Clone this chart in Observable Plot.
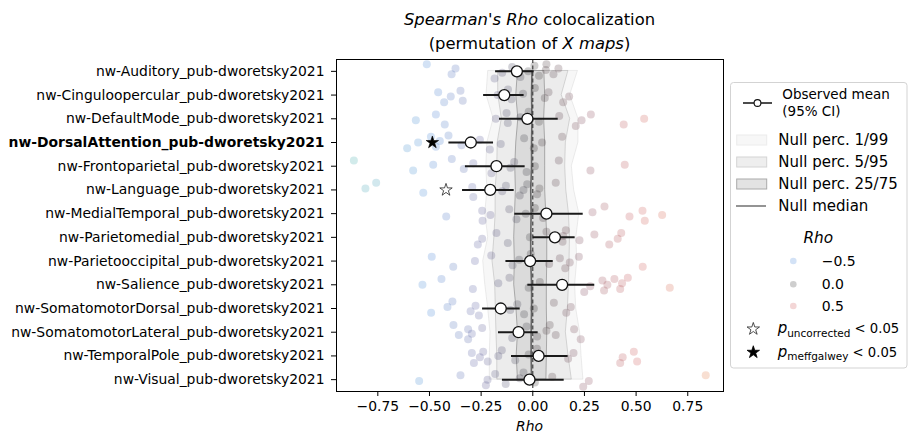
<!DOCTYPE html>
<html>
<head>
<meta charset="utf-8">
<script src="https://cdn.jsdelivr.net/npm/d3@7"></script>
<script src="https://cdn.jsdelivr.net/npm/@observablehq/plot@0.6"></script>
<style>
  body { margin: 0; background: #fff; }
  #fig { position: relative; width: 915px; height: 445px; overflow: hidden; font-family: "DejaVu Sans", sans-serif; color: #000; }
  #fig > svg.plot { position: absolute; left: 0; top: 0; }
  .title { position: absolute; left: 329.5px; width: 400px; text-align: center; font-size: 16.4px; line-height: 23.6px; top: 8px; }
  .xlabel { position: absolute; left: 479.5px; width: 100px; text-align: center; font-size: 13.9px; top: 418px; font-style: italic; }
  #legend { position: absolute; left: 725px; top: 75px; }
</style>
</head>
<body>
<div id="fig">
  <div class="title"><i>Spearman's Rho</i> colocalization<br>(permutation of <i>X maps</i>)</div>
  <div class="xlabel">Rho</div>
</div>
<script>
// Networks (one row each)
const networks = [
  "nw-Auditory_pub-dworetsky2021",
  "nw-Cinguloopercular_pub-dworetsky2021",
  "nw-DefaultMode_pub-dworetsky2021",
  "nw-DorsalAttention_pub-dworetsky2021",
  "nw-Frontoparietal_pub-dworetsky2021",
  "nw-Language_pub-dworetsky2021",
  "nw-MedialTemporal_pub-dworetsky2021",
  "nw-Parietomedial_pub-dworetsky2021",
  "nw-Parietooccipital_pub-dworetsky2021",
  "nw-Salience_pub-dworetsky2021",
  "nw-SomatomotorDorsal_pub-dworetsky2021",
  "nw-SomatomotorLateral_pub-dworetsky2021",
  "nw-TemporalPole_pub-dworetsky2021",
  "nw-Visual_pub-dworetsky2021"
];

// Observed mean Rho with 95% CI
const obsMean = [-0.077, -0.138, -0.026, -0.300, -0.176, -0.206, 0.066, 0.107, -0.013, 0.142, -0.155, -0.069, 0.028, -0.016];
const ciLow   = [-0.180, -0.238, -0.161, -0.406, -0.326, -0.340, -0.087, 0.003, -0.130, -0.024, -0.243, -0.166, -0.103, -0.147];
const ciHigh  = [0.007, -0.042, 0.123, -0.190, -0.037, -0.090, 0.244, 0.205, 0.099, 0.300, -0.061, 0.026, 0.171, 0.152];

// Null distribution percentiles per network
const nullP01 = [-0.216, -0.224, -0.190, -0.220, -0.225, -0.220, -0.230, -0.216, -0.240, -0.230, -0.216, -0.205, -0.208, -0.208];
const nullP05 = [-0.168, -0.167, -0.150, -0.170, -0.172, -0.180, -0.180, -0.186, -0.195, -0.182, -0.179, -0.176, -0.172, -0.172];
const nullP25 = [-0.072, -0.080, -0.070, -0.080, -0.085, -0.082, -0.086, -0.090, -0.087, -0.090, -0.079, -0.072, -0.078, -0.072];
const nullP50 = [-0.004, -0.006, -0.004, -0.006, -0.006, -0.010, -0.008, -0.010, -0.010, -0.006, -0.006, -0.008, -0.008, -0.006];
const nullP75 = [0.056, 0.060, 0.055, 0.060, 0.060, 0.060, 0.065, 0.070, 0.070, 0.068, 0.068, 0.070, 0.068, 0.066];
const nullP95 = [0.172, 0.140, 0.181, 0.160, 0.157, 0.162, 0.175, 0.180, 0.178, 0.175, 0.170, 0.160, 0.173, 0.189];
const nullP99 = [0.218, 0.181, 0.221, 0.221, 0.189, 0.200, 0.225, 0.211, 0.215, 0.205, 0.210, 0.229, 0.236, 0.245];

// Individual map Rho values per network
const rhoSamples = [
  [-0.513, -0.393, -0.374, -0.185, -0.148, -0.10, -0.06, -0.022, 0.008, 0.03, 0.063, 0.066, 0.10, 0.124],
  [-0.458, -0.429, -0.397, -0.35, -0.339, -0.17, -0.12, -0.103, -0.047, 0.01, 0.058, 0.076, 0.147, 0.176],
  [-0.566, -0.469, -0.426, -0.179, -0.127, -0.121, -0.06, -0.02, 0.03, 0.128, 0.208, 0.236, 0.281, 0.44, 0.539],
  [-0.608, -0.555, -0.493, -0.469, -0.45, -0.408, -0.345, -0.256, -0.208, -0.155, -0.042, 0.005, 0.045, 0.142],
  [-0.866, -0.579, -0.482, -0.392, -0.334, -0.288, -0.2, -0.108, -0.09, -0.03, 0.01, 0.126, 0.279, 0.445],
  [-0.81, -0.758, -0.53, -0.293, -0.288, -0.148, -0.13, -0.063, -0.045, -0.027, 0.021, 0.032, 0.111],
  [-0.419, -0.245, -0.243, -0.205, -0.114, -0.079, -0.034, 0.01, 0.05, 0.289, 0.347, 0.468, 0.531, 0.542, 0.626],
  [-0.266, -0.245, -0.176, -0.121, -0.014, 0.066, 0.144, 0.147, 0.16, 0.226, 0.298, 0.37, 0.411, 0.428],
  [-0.489, -0.385, -0.28, -0.201, -0.098, -0.066, -0.01, 0.079, 0.131, 0.157, 0.179, 0.223, 0.532],
  [-0.534, -0.442, -0.29, -0.167, -0.113, -0.02, 0.034, 0.249, 0.278, 0.337, 0.345, 0.361, 0.395, 0.423, 0.432, 0.46, 0.663],
  [-0.492, -0.413, -0.389, -0.301, -0.277, -0.261, -0.109, -0.075, -0.042, 0.005, 0.102, 0.162, 0.184],
  [-0.384, -0.358, -0.313, -0.313, -0.295, -0.245, -0.1, -0.066, -0.03, 0.021, 0.066, 0.082, 0.111, 0.2, 0.232],
  [-0.295, -0.285, -0.256, -0.24, -0.218, -0.167, -0.15, -0.085, -0.02, 0.02, 0.171, 0.197, 0.423, 0.435, 0.489, 0.505],
  [-0.55, -0.35, -0.227, -0.219, -0.182, -0.131, -0.063, -0.045, 0.01, 0.094, 0.244, 0.271, 0.837]
];

// Significance flags
const sigUncorrected = ["nw-Language_pub-dworetsky2021"];
const sigCorrected = ["nw-DorsalAttention_pub-dworetsky2021"];

// Tick values and colour map stops
const xTicks = [-0.75, -0.5, -0.25, 0, 0.25, 0.5, 0.75];
const colorStops = [-1, -0.5, -0.25, 0, 0.25, 0.5, 1];
const colorRange = ["#3fb79c", "#4585d8", "#5a5896", "#333333", "#7e4456", "#cb5353", "#ef8a3c"];
const legendRho = [-0.5, 0, 0.5];

const rows = networks.map((name, i) => ({
  i, name,
  mean: obsMean[i], lo: ciLow[i], hi: ciHigh[i],
  p01: nullP01[i], p05: nullP05[i], p25: nullP25[i], p50: nullP50[i],
  p75: nullP75[i], p95: nullP95[i], p99: nullP99[i]
}));

// strip-plot jitter within each row (layout only)
const points = rhoSamples.flatMap((vals, i) =>
  vals.map((rho, k) => ({ i, rho, jit: ((((k * 7 + i * 3) % 11) / 10) - 0.5) * 0.6 }))
);

const starOffset = 0.08;
const uncRows = rows.filter(d => sigUncorrected.includes(d.name));
const corRows = rows.filter(d => sigCorrected.includes(d.name));

const chart = Plot.plot({
  width: 728,
  height: 445,
  marginTop: 59,
  marginBottom: 54,
  marginLeft: 336,
  marginRight: 5,
  style: { fontFamily: "DejaVu Sans", fontSize: "13.9px", color: "#000", background: "transparent" },
  x: { domain: [-0.95, 0.923], ticks: xTicks, tickFormat: d3.format(".2f"), tickSize: 5, tickPadding: 5, label: null },
  y: { domain: [13.5, -0.5], ticks: d3.range(networks.length), tickFormat: i => networks[i], tickSize: 5, tickPadding: 7, label: null },
  color: { type: "linear", domain: colorStops, range: colorRange, interpolate: d3.interpolateRgb, clamp: true },
  marks: [
    Plot.areaX(rows, { y: "i", x1: "p01", x2: "p99", fill: "#000", fillOpacity: 0.03, stroke: "#999", strokeOpacity: 0.18, strokeWidth: 1 }),
    Plot.areaX(rows, { y: "i", x1: "p05", x2: "p95", fill: "#000", fillOpacity: 0.045, stroke: "#888", strokeOpacity: 0.3, strokeWidth: 1 }),
    Plot.areaX(rows, { y: "i", x1: "p25", x2: "p75", fill: "#000", fillOpacity: 0.07, stroke: "#777", strokeOpacity: 0.55, strokeWidth: 1 }),
    Plot.lineX(rows, { y: "i", x: "p50", stroke: "#666", strokeWidth: 1.6 }),
    Plot.dot(points, { x: "rho", y: d => d.i + d.jit, r: 4, fill: "rho", fillOpacity: 0.24 }),
    Plot.ruleX([0], { stroke: "#333", strokeWidth: 1.1, strokeDasharray: "4,2.5" }),
    Plot.ruleY(rows, { y: "i", x1: "lo", x2: "hi", stroke: "#1a1a1a", strokeWidth: 2 }),
    Plot.dot(rows, { x: "mean", y: "i", r: 5.5, fill: "white", stroke: "#111", strokeWidth: 1.3 }),
    Plot.dot(uncRows, { x: d => d.lo - starOffset, y: "i", symbol: "star", r: 3.9, fill: "white", stroke: "#222", strokeWidth: 0.8 }),
    Plot.dot(corRows, { x: d => d.lo - starOffset, y: "i", symbol: "star", r: 3.9, fill: "#000", stroke: "#000", strokeWidth: 0.6 }),
    Plot.frame({ stroke: "#000", strokeWidth: 1 })
  ]
});
chart.classList.add("plot");

// Highlight the network with a corrected-significant result
d3.select(chart).selectAll("text")
  .filter(function () { return sigCorrected.includes(this.textContent); })
  .attr("font-weight", "bold");

document.getElementById("fig").appendChild(chart);

// Legend
const legendColor = d3.scaleLinear().domain(colorStops).range(colorRange).interpolate(d3.interpolateRgb);
const lg = d3.select("#fig").append("svg")
  .attr("id", "legend").attr("width", 190).attr("height", 300)
  .style("font-family", "DejaVu Sans");

lg.append("rect").attr("x", 5.5).attr("y", 7.5).attr("width", 176.5).attr("height", 285.5)
  .attr("rx", 3).attr("fill", "white").attr("fill-opacity", 0.8).attr("stroke", "#d3d3d3");

lg.append("line").attr("x1", 18).attr("x2", 47).attr("y1", 28).attr("y2", 28).attr("stroke", "#111").attr("stroke-width", 1.5);
lg.append("circle").attr("cx", 32.5).attr("cy", 28).attr("r", 3.4).attr("fill", "white").attr("stroke", "#111").attr("stroke-width", 1.1);
lg.append("text").attr("x", 57.3).attr("y", 24).attr("font-size", 13.5).text("Observed mean");
lg.append("text").attr("x", 57.3).attr("y", 41).attr("font-size", 13.5).text("(95% CI)");

const swatches = [
  { label: "Null perc. 1/99", y: 60, fill: "#f7f7f7", stroke: "#ececec" },
  { label: "Null perc. 5/95", y: 82, fill: "#eeeeee", stroke: "#d4d4d4" },
  { label: "Null perc. 25/75", y: 104, fill: "#e3e3e3", stroke: "#aaaaaa" }
];
swatches.forEach(s => {
  lg.append("rect").attr("x", 11.7).attr("y", s.y).attr("width", 30).attr("height", 10)
    .attr("fill", s.fill).attr("stroke", s.stroke).attr("stroke-width", 1);
  lg.append("text").attr("x", 53.3).attr("y", s.y + 10.4).attr("font-size", 15).text(s.label);
});
lg.append("line").attr("x1", 11).attr("x2", 41).attr("y1", 131).attr("y2", 131).attr("stroke", "#7a7a7a").attr("stroke-width", 1.6);
lg.append("text").attr("x", 53.3).attr("y", 136.4).attr("font-size", 15).text("Null median");

lg.append("text").attr("x", 93.3).attr("y", 168).attr("text-anchor", "middle").attr("font-size", 15.3)
  .attr("font-style", "italic").text("Rho");

const fmtLegend = d3.format(".1f");
legendRho.forEach((v, k) => {
  const cy = [186, 209.3, 231][k];
  lg.append("circle").attr("cx", 68.3).attr("cy", cy).attr("r", 3.3)
    .attr("fill", legendColor(v)).attr("fill-opacity", 0.24);
  lg.append("text").attr("x", 96.7).attr("y", cy + 5).attr("font-size", 14).text(fmtLegend(v));
});

const starPath = d3.symbol(d3.symbolStar, 48)();
[
  { y: 254, fill: "white", sub: "uncorrected" },
  { y: 277.3, fill: "#000", sub: "meffgalwey" }
].forEach(s => {
  lg.append("path").attr("d", starPath).attr("transform", `translate(28.3,${s.y})`)
    .attr("fill", s.fill).attr("stroke", s.fill === "white" ? "#222" : "#000").attr("stroke-width", 0.8);
  const t = lg.append("text").attr("x", 52.7).attr("y", s.y + 4.3).attr("font-size", 14);
  t.append("tspan").attr("font-style", "italic").attr("font-size", 15).text("p");
  t.append("tspan").attr("font-size", 10.5).attr("dy", 3.5).text(s.sub);
  t.append("tspan").attr("dy", -3.5).attr("font-size", 13.2).text(" < 0.05");
});
</script>
</body>
</html>
